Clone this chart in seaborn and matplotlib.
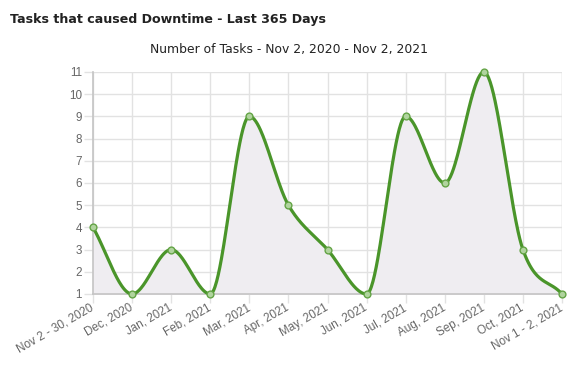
import numpy as np
import matplotlib
matplotlib.use("Agg")
import matplotlib.pyplot as plt
import seaborn as sns
import pandas as pd

categories = ["Nov 2 - 30, 2020", "Dec, 2020", "Jan, 2021", "Feb, 2021", "Mar, 2021",
              "Apr, 2021", "May, 2021", "Jun, 2021", "Jul, 2021", "Aug, 2021",
              "Sep, 2021", "Oct, 2021", "Nov 1 - 2, 2021"]
tasks = [4, 1, 3, 1, 9, 5, 3, 1, 9, 6, 11, 3, 1]
y_ticks = list(range(1, 12))

title = "Tasks that caused Downtime - Last 365 Days"
subtitle = "Number of Tasks - Nov 2, 2020 - Nov 2, 2021"

sns.set_theme(style="white")
plt.rcParams['font.family'] = ['DejaVu Sans']

fig = plt.figure(figsize=(5.76, 3.91), dpi=100)
ax = fig.add_axes([93/576, 1-294/391, (562-93)/576, (294-72)/391])

df = pd.DataFrame({"x": np.arange(len(categories), dtype=float), "y": np.array(tasks, dtype=float)})
ax.set_xlim(0, len(categories)-1)
ax.set_ylim(1, 11)

# Monotone cubic interpolation (Chart.js style)
xs = df["x"].to_numpy(); ys = df["y"].to_numpy()
n = len(xs)
delta = np.diff(ys) / np.diff(xs)
m = np.zeros(n)
m[0] = delta[0]; m[-1] = delta[-1]
for i in range(1, n-1):
    if np.sign(delta[i-1]) != np.sign(delta[i]) or delta[i] == 0:
        m[i] = 0.0
    else:
        m[i] = (delta[i-1] + delta[i]) / 2
for i in range(n-1):
    if delta[i] == 0:
        m[i] = m[i+1] = 0.0
        continue
    a = m[i] / delta[i]; b = m[i+1] / delta[i]
    sq = a*a + b*b
    if sq <= 9:
        continue
    tau = 3 / np.sqrt(sq)
    m[i] = a*tau*delta[i]; m[i+1] = b*tau*delta[i]
curve = []
ss = np.linspace(0, 1, 50)
for i in range(n-1):
    dx = (xs[i+1]-xs[i]) / 3
    p0 = np.array([xs[i], ys[i]])
    p1 = np.array([xs[i]+dx, ys[i]+dx*m[i]])
    p2 = np.array([xs[i+1]-dx, ys[i+1]-dx*m[i+1]])
    p3 = np.array([xs[i+1], ys[i+1]])
    seg = ((1-ss)**3)[:, None]*p0 + (3*(1-ss)**2*ss)[:, None]*p1 + (3*(1-ss)*ss**2)[:, None]*p2 + (ss**3)[:, None]*p3
    curve.append(seg if i == 0 else seg[1:])
cd = np.vstack(curve)

ax.fill_between(cd[:, 0], cd[:, 1], 1, color="#efedf1", zorder=1)
sns.lineplot(x=cd[:, 0], y=cd[:, 1], ax=ax, color="#4a952a", linewidth=2.3, zorder=3,
             sort=False, clip_on=False)
sns.scatterplot(data=df, x="x", y="y", ax=ax, s=24, color="#b0d49e", edgecolor="#64a446",
                linewidth=1.0, zorder=4, clip_on=False)

lab_font = ['Liberation Sans', 'DejaVu Sans']
ax.set_xticks(df["x"])
ax.set_xticklabels(categories, rotation=30, ha="right", va="center", rotation_mode="anchor",
                   family=lab_font)
ax.set_yticks(y_ticks)
ax.set_yticklabels([str(v) for v in y_ticks], family=lab_font)
ax.set_xlabel(""); ax.set_ylabel("")
ax.grid(True, color="#e2e2e2", linewidth=1)
ax.set_axisbelow(True)
for s in ["top", "right"]:
    ax.spines[s].set_visible(False)
for s in ["left", "bottom"]:
    ax.spines[s].set_color("#c4c4c4")
    ax.spines[s].set_linewidth(1.2)
ax.tick_params(axis="both", which="both", length=6.5, width=1, color="#e2e2e2",
               labelsize=8.4, labelcolor="#666666", direction="out",
               bottom=True, left=True)
ax.tick_params(axis="y", pad=1.5)
ax.tick_params(axis="x", pad=2.8)
ax.axvline(len(categories)-1, color="#e2e2e2", linewidth=1, zorder=0)

fig.text(10/576, 1-19/391, title, fontsize=9.1, fontweight="bold", color="#222222",
         ha="left", va="center")
fig.text(289/576, 1-49/391, subtitle, fontsize=8.9, color="#222222", ha="center", va="center")

fig.savefig("out.png", dpi=100)
